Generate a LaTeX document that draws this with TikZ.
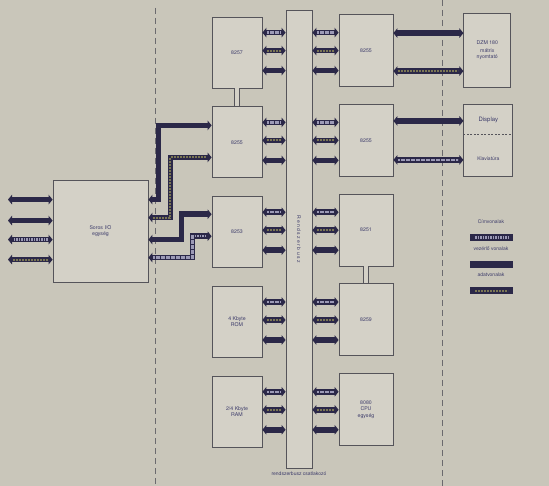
\documentclass[tikz,border=0pt]{standalone}
\usepackage{fontspec}
\setmainfont{TeX Gyre Heros}
\usetikzlibrary{positioning,arrows.meta,calc}

\definecolor{hatter}{HTML}{C9C6BA}
\definecolor{dobozfill}{HTML}{D4D1C7}
\definecolor{dobozvonal}{HTML}{55545A}
\definecolor{sotet}{HTML}{2B2848}
\definecolor{cimszin}{HTML}{9C9AB6}
\definecolor{adatszin}{HTML}{7A7654}
\definecolor{szoveg}{HTML}{3C3B6A}
\definecolor{szaggatott}{HTML}{6B6A6E}

\begin{document}
\begin{tikzpicture}[
    x=1pt,y=-1pt,
    box/.style={
        draw=dobozvonal,
        fill=dobozfill,
        line width=0.8pt,
        minimum width=50pt,
        minimum height=71pt,
        inner sep=1pt,
        align=center,
        text=szoveg,
        font=\fontsize{5.2}{6.2}\selectfont
    },
    rbox/.style={box,minimum width=54pt,minimum height=72pt},
    label/.style={text=szoveg,font=\fontsize{5}{6}\selectfont,inner sep=0.5pt},
    band/.style={
        line width=5.5pt,
        draw=sotet,
        {Triangle[width=9.5pt,length=4pt]}-{Triangle[width=9.5pt,length=4pt]}
    },
    vezv/.style={band},
    cimv/.style={band,postaction={draw=cimszin,line width=2.4pt,
        dash pattern=on 1.6pt off 0.9pt,shorten <=5pt,shorten >=5pt,arrows=-}},
    adatv/.style={band,postaction={draw=adatszin,line width=2pt,
        dash pattern=on 2pt off 1pt,shorten <=5pt,shorten >=5pt,arrows=-}},
    kisnyil/.style={draw=dobozvonal,line width=1pt,double=dobozfill,double distance=4pt}
]

%------------------------------------------------
% Background and bounds
%------------------------------------------------

\fill[hatter] (0,0) rectangle (549,486);
\useasboundingbox (0,0) rectangle (549,486);

\draw[szaggatott,line width=0.7pt,dash pattern=on 6pt off 4pt] (155,8) -- (155,486);
\draw[szaggatott,line width=0.7pt,dash pattern=on 6pt off 4pt] (442,0) -- (442,486);

%------------------------------------------------
% Bus
%------------------------------------------------

\node[box,minimum width=26pt,minimum height=458pt] (bus) at (299,239) {};
\node[label,rotate=-90] (bustext) at (bus) {R e n d s z e r b u s z};
\node[label,below=3pt of bus] (csatl) {rendszerbusz csatlakozó};

%------------------------------------------------
% Left column
%------------------------------------------------

\node[box] (b1) at (237,52.5) {8257};
\node[box,below=18pt of b1] (b2) {8255};
\node[box,below=18pt of b2] (b3) {8253};
\node[box,below=18pt of b3] (b4) {4 Kbyte\\ROM};
\node[box,below=18pt of b4] (b5) {2/4 Kbyte\\RAM};

%------------------------------------------------
% Right column
%------------------------------------------------

\node[rbox] (r1) at (366,50.5) {8255};
\node[rbox,below=17pt of r1] (r2) {8255};
\node[rbox,below=17pt of r2] (r3) {8251};
\node[rbox,below=17pt of r3] (r4) {8259};
\node[rbox,below=17pt of r4] (r5) {8080\\CPU\\egység};

\draw[kisnyil] (b1.south) -- (b2.north);
\draw[kisnyil] (r3.south) -- (r4.north);

\foreach \l/\r in {b1/r1,b2/r2,b3/r3,b4/r4,b5/r5}
{
\foreach \d/\s in {16/cimv,34/adatv,54/vezv}
{
\coordinate (t) at ([yshift=-\d pt]\l.north east);
\draw[\s] (t) -- (t -| bus.west);
\draw[\s] (t -| bus.east) -- (t -| \r.west);
}
}

%------------------------------------------------
% Peripherals
%------------------------------------------------

\node[box,minimum width=47pt,minimum height=74pt,right=70pt of r1,yshift=0.5pt] (nyomt)
{DZM 180\\[2pt]mátrix\\nyomtató};

\node[box,minimum width=49pt,minimum height=72pt,right=70pt of r2] (kijelzo) {};
\node[label,font=\fontsize{6}{7}\selectfont] (disp) at ([yshift=-16pt]kijelzo.north) {Display};
\node[label] (klav) at ([yshift=18pt]kijelzo.south) {Klaviatúra};
\draw[dobozvonal,line width=0.5pt,dash pattern=on 2pt off 1.5pt]
    ([yshift=-30pt]kijelzo.north west) -- ([yshift=-30pt]kijelzo.north east);

\coordinate (p1) at ([yshift=-19pt]r1.north east);
\coordinate (p2) at ([yshift=-57pt]r1.north east);
\draw[vezv] (p1) -- (p1 -| nyomt.west);
\draw[adatv] (p2) -- (p2 -| nyomt.west);

\coordinate (k1) at ([yshift=-17pt]r2.north east);
\coordinate (k2) at ([yshift=-56pt]r2.north east);
\draw[vezv] (k1) -- (k1 -| kijelzo.west);
\draw[cimv] (k2) -- (k2 -| kijelzo.west);

%------------------------------------------------
% Serial unit
%------------------------------------------------

\node[box,minimum width=95pt,minimum height=102pt] (soros) at (100.5,231)
{Soros I/O\\egység};

\coordinate (bal) at (8,0);
\foreach \d/\s in {20/vezv,41/vezv,60/cimv,80/adatv}
{
\coordinate (s) at ([yshift=-\d pt]soros.north west);
\draw[\s] (s) -- (s -| bal);
}

\draw[vezv] ([yshift=-20pt]soros.north east) -- ++(10,0) |- ([yshift=-19pt]b2.north west);
\draw[adatv] ([yshift=-38pt]soros.north east) -- ++(22,0) |- ([yshift=-51pt]b2.north west);
\draw[vezv] ([yshift=-60pt]soros.north east) -- ++(33,0) |- ([yshift=-18pt]b3.north west);
\draw[cimv] ([yshift=-78pt]soros.north east) -- ++(44,0) |- ([yshift=-40pt]b3.north west);

%------------------------------------------------
% Legend
%------------------------------------------------

\node[label] (lcim) at (491,222) {Címvonalak};
\node[label] (lvez) at (491,249) {vezérlő vonalak};
\node[label] (ladat) at (491,275) {adatvonalak};

\foreach \n/\s in {lcim/cimv,lvez/vezv,ladat/adatv}
{
\coordinate (la) at ([yshift=-13pt]\n.south -| 470,0);
\draw[\s,arrows=-,line width=7pt] (la) -- ++(43,0);
}

\end{tikzpicture}
\end{document}
